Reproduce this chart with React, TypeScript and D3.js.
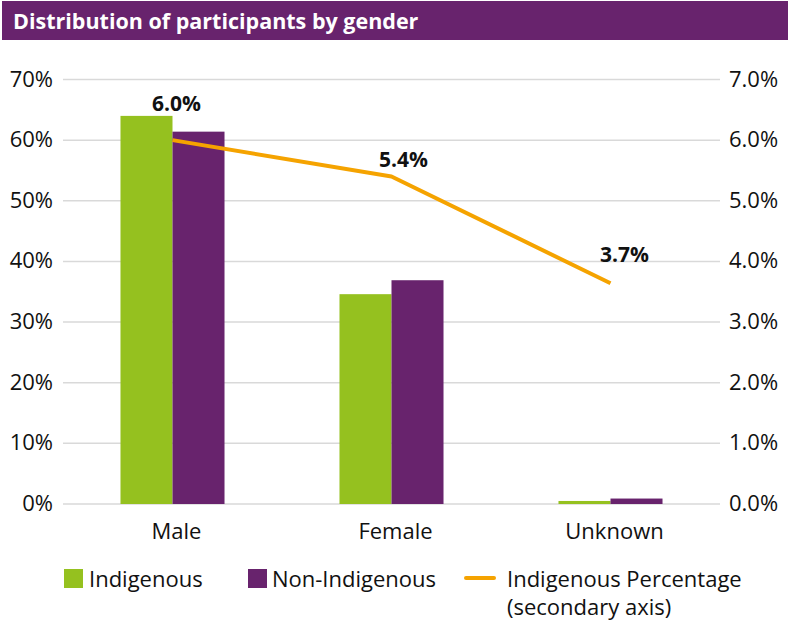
import React from "react";
import * as d3 from "d3";

const categories = ["Male", "Female", "Unknown"];
const indigenous = [64.0, 34.6, 0.5];
const nonIndigenous = [61.4, 36.9, 0.9];
const indigenousPct = [6.0, 5.4, 3.64];
const pctLabels = ["6.0%", "5.4%", "3.7%"];
const leftTicks = [0, 10, 20, 30, 40, 50, 60, 70];
const rightTicks = [0, 1, 2, 3, 4, 5, 6, 7];

const W = 788, H = 637;
const plotL = 63, plotR = 720, plotT = 79.5, plotB = 504;
const GREEN = "#95c11f", PURPLE = "#68236d", ORANGE = "#f5a300";
const FONT = "'Open Sans', Lato, sans-serif";
const labelOffsets = [[4, -29], [12, -10], [14, -21]];

export default function App() {
  const x = d3.scaleBand<string>().domain(categories).range([plotL, plotR]).paddingInner(0.525).paddingOuter(0.2625);
  const yL = d3.scaleLinear().domain([0, 70]).range([plotB, plotT]);
  const yR = d3.scaleLinear().domain([0, 7]).range([plotB, plotT]);
  const bw = x.bandwidth() / 2;
  const line = d3.line<number>().x((_, i) => (x(categories[i]) as number) + bw).y((d) => yR(d));
  return (
    <svg width={W} height={H} style={{ position: "absolute", left: 0, top: 0 }} fontFamily={FONT}>
      <rect x={0} y={0} width={W} height={H} fill="#fff" />
      <rect x={2} y={1} width={786} height={39} fill={PURPLE} />
      <text x={13} y={29} fill="#fff" fontSize={21.5} fontWeight="bold">Distribution of participants by gender</text>
      {leftTicks.map((t) => (
        <line key={t} x1={plotL} x2={plotR} y1={yL(t)} y2={yL(t)} stroke="#d9d9d9" strokeWidth={1.5} />
      ))}
      {leftTicks.map((t) => (
        <text key={"l" + t} x={53} y={yL(t) + 7} textAnchor="end" fontSize={22} fill="#111">{t}%</text>
      ))}
      {rightTicks.map((t) => (
        <text key={"r" + t} x={729} y={yR(t) + 7} textAnchor="start" fontSize={22} fill="#111">{t.toFixed(1)}%</text>
      ))}
      {categories.map((c, i) => {
        const x0 = x(c) as number;
        return (
          <g key={c}>
            <rect x={x0} y={yL(indigenous[i])} width={bw} height={plotB - yL(indigenous[i])} fill={GREEN} />
            <rect x={x0 + bw} y={yL(nonIndigenous[i])} width={bw} height={plotB - yL(nonIndigenous[i])} fill={PURPLE} />
            <text x={x0 + bw + 4} y={539} textAnchor="middle" fontSize={22} fill="#111">{c}</text>
          </g>
        );
      })}
      <path d={line(indigenousPct) || ""} fill="none" stroke={ORANGE} strokeWidth={4} strokeLinejoin="round" />
      {indigenousPct.map((v, i) => (
        <text key={"v" + i} x={(x(categories[i]) as number) + bw + labelOffsets[i][0]} y={yR(v) + labelOffsets[i][1]} textAnchor="middle" fontSize={21} fontWeight="bold" fill="#111">{pctLabels[i]}</text>
      ))}
      <g fontSize={22} fill="#111">
        <rect x={64} y={569} width={19} height={19} fill={GREEN} />
        <text x={89} y={587}>Indigenous</text>
        <rect x={248} y={569} width={19} height={19} fill={PURPLE} />
        <text x={272} y={587}>Non-Indigenous</text>
        <line x1={466} x2={494} y1={578} y2={578} stroke={ORANGE} strokeWidth={4} strokeLinecap="round" />
        <text x={507} y={587}>Indigenous Percentage</text>
        <text x={507} y={615}>(secondary axis)</text>
      </g>
    </svg>
  );
}
